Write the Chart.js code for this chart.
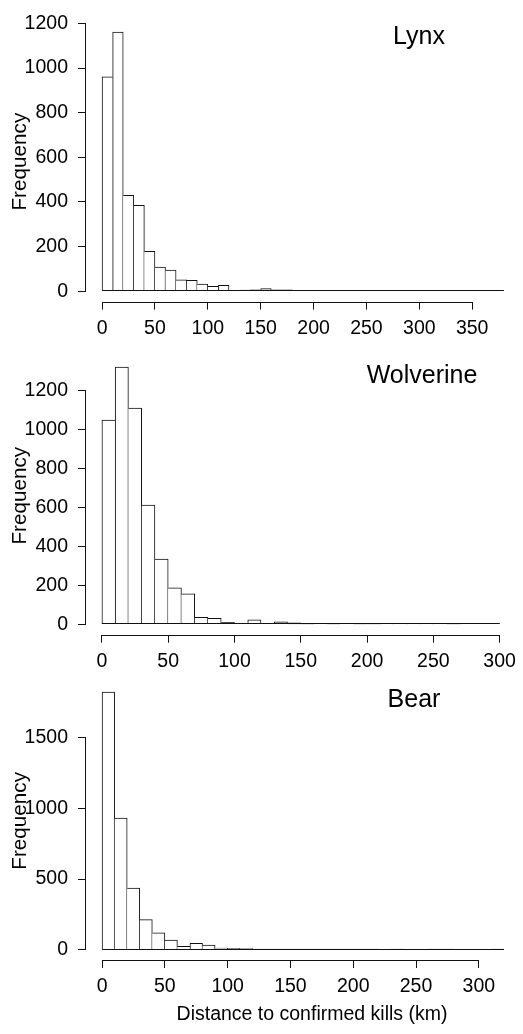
<!DOCTYPE html>
<html>
<head>
<meta charset="utf-8">
<script src="https://cdn.jsdelivr.net/npm/chart.js@4.4.1/dist/chart.umd.min.js"></script>
<style>
  html, body { margin: 0; padding: 0; background: #fff; }
  #fig { position: relative; width: 523px; height: 1034px; overflow: hidden; }
  #fig canvas { position: absolute; left: 0; }
</style>
</head>
<body>
<div id="fig">
  <canvas id="lynxChart" width="523" height="345" style="top:0px"></canvas>
  <canvas id="wolvChart" width="523" height="340" style="top:335px"></canvas>
  <canvas id="bearChart" width="523" height="374" style="top:660px"></canvas>
</div>
<script>
// ── Data (counts per 10 km bin, starting at 0 km) ─────────
const BIN_WIDTH = 10;

const lynxCounts = [960, 1161, 430, 385, 179, 108, 95, 51, 49, 32,
                    22, 27, 3, 5, 6, 12, 6, 6, 1, 1,
                    2, 1, 1, 0, 1, 0, 0, 1, 0, 0,
                    0, 0, 1, 0, 0, 1, 2, 2];
const wolvCounts = [1047, 1319, 1109, 612, 335, 188, 157, 36, 31, 11,
                    6, 23, 3, 13, 8, 1, 2, 1, 2, 1,
                    1, 3, 2, 3, 3, 2, 1, 3, 6, 4];
const bearCounts = [1825, 933, 437, 213, 120, 68, 23, 45, 32, 12,
                    9, 7, 4, 2, 3, 5, 3, 1, 3, 3,
                    3, 1, 0, 1, 0, 0, 2, 1, 0, 0,
                    0, 2];

const lynxXTicks = [0, 50, 100, 150, 200, 250, 300, 350];
const wolvXTicks = [0, 50, 100, 150, 200, 250, 300];
const bearXTicks = [0, 50, 100, 150, 200, 250, 300];

const lynxYTicks = [0, 200, 400, 600, 800, 1000, 1200];
const wolvYTicks = [0, 200, 400, 600, 800, 1000, 1200];
const bearYTicks = [0, 500, 1000, 1500];

const Y_TITLE = 'Frequency';
const X_TITLE = 'Distance to confirmed kills (km)';

// ── Look ───────────────────────────────────────────────
const INK = '#111';
const FONT = '"Liberation Sans", Arial, sans-serif';
const AXIS_SIZE = 19.5;
const YTITLE_SIZE = 20.7;
const NAME_SIZE = 25;

// each shared bin edge is drawn once, by the taller neighbour
const barEdges = (counts, i) => {
  if (i === undefined) return 1;
  const c = counts[i];
  const prev = i > 0 ? counts[i - 1] : 0;
  const next = i < counts.length - 1 ? counts[i + 1] : 0;
  return {
    top: c > 0 ? 1 : 0,
    bottom: 0,
    left: c > 0 && c >= prev ? 1 : 0,
    right: c > next ? 1 : 0,
  };
};

// R-style axes: line only from first to last tick, plus baseline under empty bins
const rAxesPlugin = {
  id: 'rAxes',
  afterDraw(chart, args, opts) {
    const { ctx, chartArea, scales: { x, y } } = chart;
    const xt = x.ticks, yt = y.ticks;
    ctx.save();
    ctx.strokeStyle = INK;
    ctx.lineWidth = 1;

    const base = Math.round(y.getPixelForValue(0)) - 0.5;
    ctx.beginPath();
    ctx.moveTo(x.getPixelForValue(0), base);
    ctx.lineTo(x.getPixelForValue(opts.breakMax), base);
    ctx.stroke();

    const ax = Math.round(chartArea.bottom) + 0.5;
    ctx.beginPath();
    ctx.moveTo(x.getPixelForValue(xt[0].value), ax);
    ctx.lineTo(x.getPixelForValue(xt[xt.length - 1].value), ax);
    ctx.stroke();

    const ay = Math.round(chartArea.left) - 0.5;
    ctx.beginPath();
    ctx.moveTo(ay, y.getPixelForValue(yt[0].value));
    ctx.lineTo(ay, y.getPixelForValue(yt[yt.length - 1].value));
    ctx.stroke();

    ctx.fillStyle = '#000';
    ctx.textAlign = 'center';
    ctx.textBaseline = 'middle';
    ctx.font = `${NAME_SIZE}px ${FONT}`;
    ctx.fillText(opts.name, opts.nameX, opts.nameY);

    if (opts.xTitle) {
      ctx.font = `${AXIS_SIZE}px ${FONT}`;
      ctx.fillText(opts.xTitle, opts.xTitleX, opts.xTitleY);
    }
    ctx.restore();
  },
};

const makeHistogram = (p) => {
  const xMax = p.counts.length * BIN_WIDTH;
  const yMax = Math.max(...p.counts);
  const points = p.counts.map((c, i) => ({ x: i * BIN_WIDTH + BIN_WIDTH / 2, y: c }));
  const tickFont = { family: FONT, size: AXIS_SIZE };

  return new Chart(document.getElementById(p.canvasId), {
    type: 'bar',
    data: {
      datasets: [{
        data: points,
        backgroundColor: '#fff',
        borderColor: INK,
        borderWidth: (c) => barEdges(p.counts, c.dataIndex),
        borderSkipped: false,
        barPercentage: 1,
        categoryPercentage: 1,
      }],
    },
    options: {
      responsive: false,
      animation: false,
      devicePixelRatio: 1,
      layout: { padding: { top: p.padTop, right: 3, bottom: 0, left: 0 } },
      plugins: {
        legend: { display: false },
        tooltip: { enabled: false },
        rAxes: {
          breakMax: xMax,
          name: p.name, nameX: p.nameX, nameY: p.nameY,
          xTitle: p.xTitle, xTitleX: 312, xTitleY: p.xTitleY,
        },
      },
      scales: {
        x: {
          type: 'linear',
          offset: false,
          min: -0.04 * xMax,
          max: 1.04 * xMax,
          afterBuildTicks: (s) => { s.ticks = p.xTicks.map(v => ({ value: v })); },
          afterFit: (s) => { s.height = p.xAxisHeight; },
          border: { display: false },
          grid: { display: true, drawOnChartArea: false, drawTicks: true, tickLength: 8, color: INK, offset: false },
          ticks: { autoSkip: false, maxRotation: 0, padding: 7, color: '#000', font: tickFont, callback: v => String(v) },
        },
        y: {
          min: -0.04 * yMax,
          max: 1.04 * yMax,
          afterBuildTicks: (s) => { s.ticks = p.yTicks.map(v => ({ value: v })); },
          afterFit: (s) => { s.width = 86; },
          border: { display: false },
          grid: { display: true, drawOnChartArea: false, drawTicks: true, tickLength: 8, color: INK },
          ticks: { padding: 10, color: '#000', font: tickFont, callback: v => String(v) },
          title: { display: true, text: Y_TITLE, color: '#000', font: { family: FONT, size: YTITLE_SIZE }, padding: { top: 8, bottom: 0 } },
        },
      },
    },
    plugins: [rAxesPlugin],
  });
};

makeHistogram({ canvasId: 'lynxChart', name: 'Lynx', counts: lynxCounts, xTicks: lynxXTicks, yTicks: lynxYTicks,
                padTop: 14.3, xAxisHeight: 43.4, nameX: 419, nameY: 37 });
makeHistogram({ canvasId: 'wolvChart', name: 'Wolverine', counts: wolvCounts, xTicks: wolvXTicks, yTicks: wolvYTicks,
                padTop: 12, xAxisHeight: 40.3, nameX: 422, nameY: 41 });
makeHistogram({ canvasId: 'bearChart', name: 'Bear', counts: bearCounts, xTicks: bearXTicks, yTicks: bearYTicks,
                padTop: 12.6, xAxisHeight: 74, nameX: 414, nameY: 40, xTitle: X_TITLE, xTitleY: 355 });
</script>
</body>
</html>
